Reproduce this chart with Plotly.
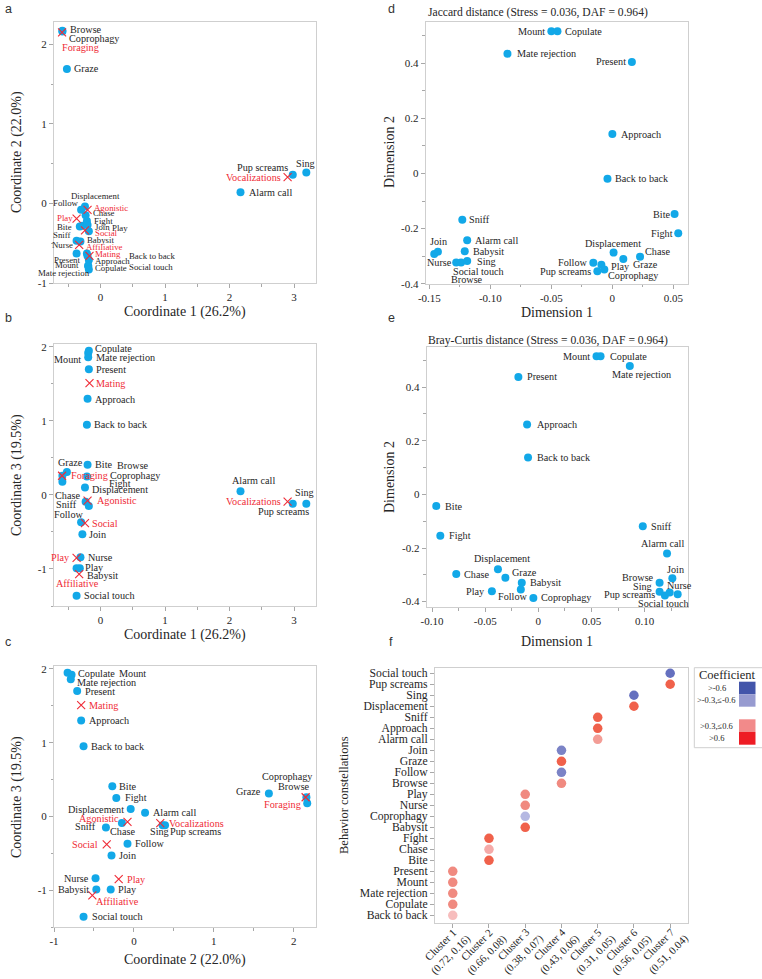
import plotly.graph_objects as go

W, H = 762, 979

# ---------------- data ----------------
behaviors = ["Social touch", "Pup screams", "Sing", "Displacement", "Sniff", "Approach",
             "Alarm call", "Join", "Graze", "Follow", "Browse", "Play", "Nurse",
             "Coprophagy", "Babysit", "Fight", "Chase", "Bite", "Present", "Mount",
             "Mate rejection", "Copulate", "Back to back"]

# PCoA coordinates (panels a-c)
coord1 = [-0.37, 2.98, 3.19, -0.24, -0.18, -0.20, 2.17, -0.28, -0.52, -0.30, -0.59, -0.32,
          -0.31, -0.59, -0.37, -0.21, -0.23, -0.20, -0.18, -0.19, -0.19, -0.18, -0.21]
coord2 = [-0.63, 0.36, 0.39, -0.04, -0.35, -0.66, 0.14, -0.28, 1.69, -0.08, 2.17, -0.29,
          -0.48, 2.16, -0.47, -0.22, -0.15, -0.27, -0.71, -0.78, -0.79, -0.83, -0.63]
coord3 = [-1.36, -0.12, -0.12, 0.10, -0.15, 1.30, 0.05, -0.53, 0.31, -0.37, 0.18, -0.99,
          -0.84, 0.26, -0.99, 0.25, -0.09, 0.41, 1.70, 1.92, 1.86, 1.95, 0.95]

groups = ["Foraging", "Vocalizations", "Agonistic", "Play", "Social", "Affiliative", "Mating"]
group_c1 = [-0.595, 2.90, -0.20, -0.37, -0.24, -0.33, -0.17]
group_c2 = [2.15, 0.33, -0.08, -0.19, -0.34, -0.52, -0.66]
group_c3 = [0.26, -0.09, -0.075, -0.85, -0.38, -1.07, 1.51]

# NMDS (panel d: Jaccard, panel e: Bray-Curtis)
jac_d1 = [-0.124, -0.0123, -0.119, 0.001, -0.123, 0.0, -0.119, -0.143, 0.009, -0.0156, -0.146,
          -0.009, -0.128, -0.0066, -0.121, 0.054, 0.0227, 0.051, 0.016, -0.050, -0.086, -0.045, -0.004]
jac_d2 = [-0.323, -0.355, -0.318, -0.287, -0.168, 0.143, -0.2425, -0.284, -0.31, -0.324, -0.292,
          -0.331, -0.323, -0.348, -0.2825, -0.217, -0.302, -0.147, 0.405, 0.516, 0.435, 0.516, -0.019]
bc_d1 = [0.131, 0.119, 0.114, -0.038, 0.0982, -0.0106, 0.121, 0.126, -0.031, -0.0165, 0.114,
         -0.0437, 0.1235, -0.0047, -0.0156, -0.0922, -0.0772, -0.096, -0.0188, 0.0547, 0.086, 0.0585, -0.0097]
bc_d2 = [-0.372, -0.377, -0.363, -0.2795, -0.119, 0.261, -0.22, -0.313, -0.311, -0.355, -0.33,
         -0.361, -0.366, -0.386, -0.33, -0.154, -0.297, -0.0436, 0.438, 0.5157, 0.479, 0.5157, 0.138]

# panel f: behaviour constellations
cluster_labels = ["Cluster 1<br>(0.72, 0.16)", "Cluster 2<br>(0.66, 0.08)", "Cluster 3<br>(0.38, 0.07)",
                  "Cluster 4<br>(0.43, 0.06)", "Cluster 5<br>(0.31, 0.05)", "Cluster 6<br>(0.56, 0.05)",
                  "Cluster 7<br>(0.51, 0.04)"]
behavior_cluster = [7, 7, 6, 6, 5, 5, 5, 4, 4, 4, 4, 3, 3, 3, 3, 2, 2, 2, 1, 1, 1, 1, 1]
coefficient = [-0.62, 0.7, -0.62, 0.7, 0.7, 0.7, 0.42, -0.55, 0.7, -0.55, 0.5, 0.5, 0.5,
               -0.35, 0.7, 0.7, 0.38, 0.7, 0.5, 0.5, 0.5, 0.5, 0.35]
legend_labels = [">-0.6", ">-0.3,\u2264-0.6", ">0.3,\u22640.6", ">0.6"]

coord_ticks = [-1, 0, 1, 2, 3]
coord_ticktext = ["-1", "0", "1", "2", "3"]
jac_xticks = [-0.15, -0.10, -0.05, 0, 0.05]
jac_xtext = ["-0.15", "-0.10", "-0.05", "0", "0.05"]
bc_xticks = [-0.10, -0.05, 0, 0.05, 0.10]
bc_xtext = ["-0.10", "-0.05", "0", "0.05", "0.10"]
dim_yticks = [-0.4, -0.2, 0, 0.2, 0.4]
dim_ytext = ["-0.4", "-0.2", "0", "0.2", "0.4"]

# ---------------- style ----------------
BLUE = "#12a8e8"
RED = "#ef2b36"
FONT = "'Liberation Serif', 'Times New Roman', 'DejaVu Serif', serif"
SANS = "'Liberation Sans', Arial, sans-serif"
LINE = "#cfcfcf"
TICK = "#a8a8a8"
TXT = "#262626"


def X(px):
    return px / W


def Y(px):
    return 1 - px / H


def axis(dom, rng, tv, tt, anchor, minor=None, horizontal=True, **kw):
    if horizontal:
        domain = [X(dom[0]), X(dom[1])]
    else:
        domain = [Y(dom[1]), Y(dom[0])]
    d = dict(domain=domain, range=rng, anchor=anchor, showline=True, mirror=True,
             linecolor=LINE, linewidth=1, ticks="outside", ticklen=4, tickcolor=TICK,
             tickwidth=1, showgrid=False, zeroline=False, automargin=False,
             tickfont=dict(family=FONT, size=11, color=TXT))
    if tv is not None:
        d.update(tickmode="array", tickvals=tv, ticktext=tt)
    if minor:
        d["minor"] = dict(tickmode="linear", tick0=0, dtick=minor, ticklen=2.5,
                          tickcolor=TICK, ticks="outside", showgrid=False)
    d.update(kw)
    return d


layout = dict(width=W, height=H, margin=dict(l=0, r=0, t=0, b=0, autoexpand=False),
              paper_bgcolor="white", plot_bgcolor="white", showlegend=False,
              font=dict(family=FONT, color=TXT))

# panel a
layout["xaxis"] = axis((54, 316), [-0.72, 3.34], coord_ticks, coord_ticktext, "y", 0.5)
layout["yaxis"] = axis((22, 283), [-1, 2.28], coord_ticks, coord_ticktext, "x", 0.5, horizontal=False)
# panel b
layout["xaxis2"] = axis((54, 316), [-0.72, 3.34], coord_ticks, coord_ticktext, "y2", 0.5)
layout["yaxis2"] = axis((344, 606), [-1.5, 2.04], coord_ticks, coord_ticktext, "x2", 0.5, horizontal=False)
# panel c
layout["xaxis3"] = axis((54, 316), [-1, 2.28], coord_ticks, coord_ticktext, "y3", 0.5)
layout["yaxis3"] = axis((666, 927), [-1.5, 2.04], coord_ticks, coord_ticktext, "x3", 0.5, horizontal=False)
# panel d
layout["xaxis4"] = axis((425.7, 688), [-0.153, 0.062], jac_xticks, jac_xtext, "y4", 0.025)
layout["yaxis4"] = axis((22, 283.7), [-0.4, 0.55], dim_yticks, dim_ytext, "x4", 0.1, horizontal=False)
# panel e
layout["xaxis5"] = axis((426.7, 688.3), [-0.105, 0.141], bc_xticks, bc_xtext, "y5", 0.025)
layout["yaxis5"] = axis((346.7, 607), [-0.42, 0.551], dim_yticks, dim_ytext, "x5", 0.1, horizontal=False)
# panel f (cluster tick labels are drawn as rotated annotations below)
layout["xaxis6"] = axis((435, 688.3), [-0.49, 6.5], cluster_labels, cluster_labels, "y6",
                        type="category", categoryorder="array", categoryarray=cluster_labels,
                        showticklabels=False)
layout["yaxis6"] = axis((668.3, 922.7), [-0.67, 22.45], behaviors, behaviors, "x6", horizontal=False,
                        type="category", categoryorder="array", categoryarray=behaviors[::-1],
                        tickfont=dict(family=FONT, size=11.7, color=TXT))

fig = go.Figure()
fig.update_layout(**layout)

panel_axes = {"a": ("x", "y"), "b": ("x2", "y2"), "c": ("x3", "y3"),
              "d": ("x4", "y4"), "e": ("x5", "y5")}
beh_xy = {"a": (coord1, coord2), "b": (coord1, coord3), "c": (coord2, coord3),
          "d": (jac_d1, jac_d2), "e": (bc_d1, bc_d2)}
grp_xy = {"a": (group_c1, group_c2), "b": (group_c1, group_c3), "c": (group_c2, group_c3)}

for p, (xa, ya) in panel_axes.items():
    bx, by = beh_xy[p]
    fig.add_trace(go.Scatter(x=bx, y=by, mode="markers", xaxis=xa, yaxis=ya, cliponaxis=False,
                             marker=dict(size=8, color=BLUE, line=dict(width=0))))
    if p in grp_xy:
        gx, gy = grp_xy[p]
        fig.add_trace(go.Scatter(x=gx, y=gy, mode="markers", xaxis=xa, yaxis=ya, cliponaxis=False,
                                 marker=dict(symbol="x-thin-open", size=8, color=RED,
                                             line=dict(width=1.1, color=RED))))

# panel f dots
fig.add_trace(go.Scatter(
    x=[cluster_labels[c - 1] for c in behavior_cluster], y=behaviors, mode="markers",
    xaxis="x6", yaxis="y6", cliponaxis=False,
    marker=dict(size=9.5, color=coefficient, cmin=-1, cmax=1, showscale=False,
                colorscale=[[0, "#3d4aa8"], [0.19, "#6570bf"], [0.225, "#7b83c6"],
                            [0.325, "#b5b8e2"], [0.5, "#ffffff"], [0.675, "#f7bdbd"],
                            [0.69, "#f5aaa8"], [0.71, "#f39d96"], [0.75, "#f08a80"],
                            [0.85, "#f0614b"], [1, "#e8281c"]],
                line=dict(width=0))))

# ---------------- label placement (pixel offsets from each point) ----------------
LAB = {
    "a": {"Browse": ("l", 7, -1), "Coprophagy": ("l", 6, 7), "Graze": ("l", 6, 0),
          "Sing": ("c", -1, -9), "Pup screams": ("r", -4, -7), "Alarm call": ("l", 7, 0),
          "Displacement": ("c", 11, -11), "Follow": ("r", -1, -7), "Chase": ("l", 6.5, -2),
          "Fight": ("l", 6, 0), "Bite": ("r", -15, 2), "Join": ("l", 11.5, 1.5),
          "Play": ("l", 31, 1), "Sniff": ("r", -17, 4), "Babysit": ("l", 9, -1),
          "Nurse": ("r", -6, 3), "Present": ("r", -8, 0), "Mount": ("r", -8.5, 0),
          "Back to back": ("l", 41, 2.5), "Approach": ("l", 6.5, 5),
          "Mate rejection": ("r", 3, 7), "Copulate": ("l", 5, -1), "Social touch": ("l", 51, 13.5)},
    "b": {"Social touch": ("l", 6, 0), "Pup screams": ("c", -9, 8), "Sing": ("c", -2, -11),
          "Displacement": ("l", 6, 2), "Sniff": ("r", -11, -2), "Approach": ("l", 6.5, 1),
          "Alarm call": ("c", 12.5, -10.5), "Join": ("l", 6, 0), "Graze": ("c", 4, -10),
          "Follow": ("r", 3.5, -8), "Browse": ("l", 54, -16), "Coprophagy": ("l", 46.5, -0.5),
          "Play": ("l", 4, -1), "Nurse": ("l", 7, 0), "Babysit": ("l", 9, 7.5),
          "Fight": ("l", 21, 7.5), "Chase": ("r", -5, -6.5), "Bite": ("l", 6.5, 0),
          "Present": ("l", 6, 0), "Mount": ("r", -6, 6.5), "Mate rejection": ("l", 7, 0.5),
          "Copulate": ("l", 5, -2), "Back to back": ("l", 6, 0)},
    "c": {"Social touch": ("l", 7, 0), "Pup screams": ("l", 6.5, 6.5), "Sing": ("l", -16, 6.5),
          "Displacement": ("r", -6, 0), "Sniff": ("r", -8.5, -1), "Approach": ("l", 7, 0),
          "Alarm call": ("l", 6.5, 0), "Join": ("l", 6, 0), "Graze": ("r", -6.5, -2),
          "Follow": ("l", 7, 0), "Browse": ("r", 3.5, -16.7), "Coprophagy": ("c", -19, -20.5),
          "Play": ("l", 6, 0), "Nurse": ("r", -6, 0), "Babysit": ("r", -6.5, 0),
          "Fight": ("l", 7.5, 0), "Chase": ("l", -12.5, 8.7), "Bite": ("l", 6, 0),
          "Present": ("l", 6.7, 0), "Mount": ("l", 46, -1), "Mate rejection": ("l", 5.6, 3.4),
          "Copulate": ("l", 9.5, 1), "Back to back": ("l", 6.5, 0)},
    "d": {"Mount": ("r", -5, 0), "Copulate": ("l", 6.5, 0), "Mate rejection": ("l", 8.5, 0),
          "Present": ("r", -5, 0), "Approach": ("l", 8, 0), "Back to back": ("l", 7, 0),
          "Bite": ("r", -4, 0), "Fight": ("r", -4, 0), "Sniff": ("l", 6, 0),
          "Alarm call": ("l", 7, 0), "Babysit": ("l", 7.5, 0), "Join": ("c", 1, -10),
          "Browse": ("l", 16, 26), "Nurse": ("r", -3.5, 0), "Social touch": ("l", -9, 9),
          "Sing": ("l", 8.5, 0), "Displacement": ("c", -1, -9), "Chase": ("l", 4, -5),
          "Graze": ("l", 9, 6), "Play": ("l", 9, 2), "Follow": ("r", -4, 0),
          "Pup screams": ("r", -5, 0), "Coprophagy": ("l", 2.5, 6)},
    "e": {"Mount": ("r", -5.5, 0), "Copulate": ("l", 8, 0), "Mate rejection": ("c", 12, 8),
          "Present": ("l", 8, 0), "Approach": ("l", 8.5, 0), "Back to back": ("l", 8, 0),
          "Bite": ("l", 8, 0), "Fight": ("l", 8, 0), "Sniff": ("l", 7, 0),
          "Alarm call": ("c", -5, -10), "Join": ("c", 3, -9), "Browse": ("r", -5, -5),
          "Nurse": ("l", -4, -7), "Sing": ("r", -7, -5), "Pup screams": ("r", -9, -1),
          "Social touch": ("c", -14, 9), "Displacement": ("c", 4, -11), "Graze": ("l", 6, -5.5),
          "Chase": ("l", 7, 0), "Babysit": ("l", 7.5, 0), "Follow": ("c", -8, 7),
          "Play": ("r", -6, 0), "Coprophagy": ("l", 7, 0)},
}
GLAB = {
    "a": {"Foraging": ("l", -1.5, 15), "Vocalizations": ("r", -6, 0), "Agonistic": ("l", 5, -2),
          "Play": ("r", -3, -1), "Social": ("l", 9, 2.5), "Affiliative": ("l", 5.5, 2),
          "Mating": ("l", 4.5, -1.5)},
    "b": {"Foraging": ("l", 7.5, 0), "Vocalizations": ("r", -6, -0.5), "Agonistic": ("l", 8, 0),
          "Play": ("r", -6, 0), "Social": ("l", 6, 0), "Affiliative": ("c", -2, 9),
          "Mating": ("l", 6, 0)},
    "c": {"Foraging": ("r", -4, 7), "Vocalizations": ("l", 8, 0), "Agonistic": ("r", -7.5, -3.5),
          "Play": ("l", 7, 0), "Social": ("r", -8, 0), "Affiliative": ("l", 3, 6),
          "Mating": ("l", 7, 0)},
}
# labels inside the crowded origin cluster of panel a are drawn smaller
SMALL_A = {"Displacement", "Follow", "Chase", "Fight", "Bite", "Join", "Play", "Sniff", "Babysit",
           "Nurse", "Present", "Mount", "Back to back", "Approach", "Mate rejection", "Copulate",
           "Social touch", "Agonistic", "Social", "Affiliative", "Mating"}
ANC = {"l": "left", "r": "right", "c": "center"}

annotations = []


def add_labels(names, xs, ys, offs, xa, ya, color, panel):
    for n, x, y in zip(names, xs, ys):
        a, dx, dy = offs[n]
        size = 8.8 if (panel == "a" and n in SMALL_A) else 10.2
        annotations.append(dict(x=x, y=y, xref=xa, yref=ya, text=n, showarrow=False,
                                xanchor=ANC[a], yanchor="middle", xshift=dx, yshift=-dy,
                                borderpad=0, font=dict(family=FONT, size=size, color=color)))


for p, (xa, ya) in panel_axes.items():
    bx, by = beh_xy[p]
    add_labels(behaviors, bx, by, LAB[p], xa, ya, TXT, p)
    if p in grp_xy:
        gx, gy = grp_xy[p]
        add_labels(groups, gx, gy, GLAB[p], xa, ya, RED, p)

# rotated cluster labels for panel f, centred under each category tick
for cl in cluster_labels:
    annotations.append(dict(x=cl, y=Y(949), xref="x6", yref="paper", text=cl, showarrow=False,
                            xanchor="center", yanchor="middle", xshift=-7, textangle=-45,
                            align="center", borderpad=0,
                            font=dict(family=FONT, size=10.8, color=TXT)))


def paper_text(text, x, y, size, angle=0, anchor="center", family=FONT, color=TXT):
    annotations.append(dict(x=X(x), y=Y(y), xref="paper", yref="paper", text=text,
                            showarrow=False, xanchor=anchor, yanchor="middle", textangle=angle,
                            borderpad=0, font=dict(family=family, size=size, color=color)))


# axis titles
paper_text("Coordinate 1 (26.2%)", 185, 312, 14)
paper_text("Coordinate 2 (22.0%)", 17, 152, 14, angle=-90)
paper_text("Coordinate 1 (26.2%)", 185, 635, 14)
paper_text("Coordinate 3 (19.5%)", 17, 475, 14, angle=-90)
paper_text("Coordinate 2 (22.0%)", 185, 960, 14)
paper_text("Coordinate 3 (19.5%)", 17, 797, 14, angle=-90)
paper_text("Dimension 1", 557, 312, 14)
paper_text("Dimension 2", 389, 152, 14, angle=-90)
paper_text("Dimension 1", 557, 641, 14)
paper_text("Dimension 2", 389, 477, 14, angle=-90)
paper_text("Behavior constellations", 344, 795, 12.5, angle=-90)
# panel titles
paper_text("Jaccard distance (Stress = 0.036, DAF = 0.964)", 427, 13, 11.6, anchor="left")
paper_text("Bray-Curtis distance (Stress = 0.036, DAF = 0.964)", 427, 340, 11.6, anchor="left")
# panel letters
for letter, (lx, ly) in zip("abcdef", [(8, 9), (8, 318), (8, 642), (391, 9), (391, 318), (391, 642)]):
    paper_text(letter, lx, ly, 12.5, family=SANS, color="#333")

# legend for panel f
shapes = [dict(type="rect", xref="paper", yref="paper", x0=X(694.3), x1=X(775),
               y0=Y(747.7), y1=Y(667.7), line=dict(color=LINE, width=1), fillcolor="white")]
legend_colors = ["#4355aa", "#979bd0", "#f28a8a", "#ee1c24"]
legend_rows = [(681.7, 694.2), (694.2, 706.7), (719.3, 732), (732, 744.7)]
for col, (t, b), lab in zip(legend_colors, legend_rows, legend_labels):
    shapes.append(dict(type="rect", xref="paper", yref="paper", x0=X(739), x1=X(755.5),
                       y0=Y(b), y1=Y(t), line=dict(width=0), fillcolor=col))
    paper_text(lab, 716.5, (t + b) / 2, 8.5)
paper_text("Coefficient", 727, 674.5, 12.5)

fig.update_layout(annotations=annotations, shapes=shapes)
fig.write_html("out.html")
